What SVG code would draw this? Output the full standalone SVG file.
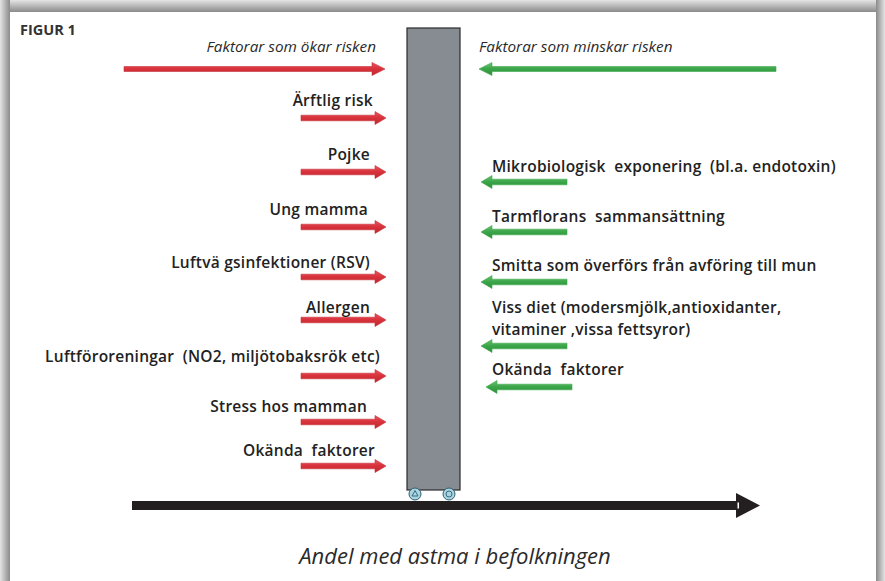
<svg xmlns="http://www.w3.org/2000/svg" xmlns:xlink="http://www.w3.org/1999/xlink" width="885" height="581" viewBox="0 0 885 581">
<defs>
<linearGradient id="gTop" x1="0" y1="0" x2="0" y2="1"><stop offset="0" stop-color="#e4e4e4"/><stop offset="1" stop-color="#8a8a8a"/></linearGradient>
<linearGradient id="gLeft" x1="0" y1="0" x2="1" y2="0"><stop offset="0" stop-color="#e4e4e4"/><stop offset="1" stop-color="#8a8a8a"/></linearGradient>
<linearGradient id="gRight" x1="1" y1="0" x2="0" y2="0"><stop offset="0" stop-color="#e4e4e4"/><stop offset="1" stop-color="#8a8a8a"/></linearGradient>
<linearGradient id="gRed" x1="0" y1="0" x2="0" y2="1"><stop offset="0" stop-color="#e9545c"/><stop offset="0.5" stop-color="#d8313b"/><stop offset="1" stop-color="#c0262f"/></linearGradient>
<linearGradient id="gGreen" x1="0" y1="0" x2="0" y2="1"><stop offset="0" stop-color="#6cc070"/><stop offset="0.5" stop-color="#3aa548"/><stop offset="1" stop-color="#2e8e3c"/></linearGradient>
<path id="ra" d="M0,-2.8 H74 V-6.5 L85,0 L74,6.5 V2.8 H0 Z" fill="url(#gRed)" stroke="#c8323a" stroke-width="0.6"/>
<path id="ga" d="M0,0 L11,-6.5 V-2.8 H86 V2.8 H11 V6.5 Z" fill="url(#gGreen)" stroke="#3daa4b" stroke-width="0.6"/>
<style>
.lbl{font-family:"Open Sans","Noto Sans","Liberation Sans",sans-serif;font-weight:600;font-size:15.5px;letter-spacing:0.25px;fill:#222;white-space:pre}
.l{text-anchor:end}
.hdr{font-family:"Open Sans","Liberation Sans",sans-serif;font-style:italic;font-size:15.3px;fill:#2a2a2a}
</style>
</defs>
<rect x="0" y="0" width="885" height="581" fill="#ffffff"/>
<rect x="0" y="0" width="885" height="12" fill="url(#gTop)"/>
<rect x="0" y="0" width="10" height="581" fill="url(#gLeft)"/>
<rect x="876" y="0" width="9" height="581" fill="url(#gRight)"/>
<rect x="10" y="12" width="866" height="569" fill="#ffffff"/>

<text x="20" y="35" font-family="Open Sans, Liberation Sans, sans-serif" font-weight="700" font-size="14.5" fill="#333">FIGUR 1</text>

<g id="headers">
<text class="hdr" x="376" y="52" text-anchor="end">Faktorar som ökar risken</text>
<text class="hdr" x="479" y="52">Faktorar som minskar risken</text>
</g>

<g id="column">
<rect x="407" y="28" width="53" height="462" fill="#878c93" stroke="#2b2b2b" stroke-width="1.2"/>
<circle cx="415" cy="494" r="6" fill="#a9d5e2" stroke="#2f5f70" stroke-width="1"/>
<path d="M415,490.5 L418,496 L412,496 Z" fill="none" stroke="#2f5f70" stroke-width="0.9"/>
<circle cx="449" cy="494" r="6" fill="#a9d5e2" stroke="#2f5f70" stroke-width="1"/>
<circle cx="449" cy="494" r="3" fill="none" stroke="#2f5f70" stroke-width="0.9"/>
</g>

<g id="axis">
<rect x="132" y="501" width="606" height="9" fill="#231f20"/>
<path d="M736,493 L760,505.5 L736,518 Z" fill="#231f20"/>
<rect x="737.5" y="502.5" width="1.5" height="6" fill="#ffffff"/>
<text x="455" y="564" text-anchor="middle" font-family="Open Sans, Liberation Sans, sans-serif" font-style="italic" font-size="22" fill="#2a2a2a">Andel med astma i befolkningen</text>
</g>

<g id="connectors">
<path d="M124,66.5 H372 V62.5 L385,69 L372,75.5 V71.5 H124 Z" fill="url(#gRed)" stroke="#c8323a" stroke-width="0.6"/>
<path d="M479,69 L492,62.5 V66.5 H776 V71.5 H492 V75.5 Z" fill="url(#gGreen)" stroke="#3daa4b" stroke-width="0.6"/>
<use xlink:href="#ra" x="301" y="118"/>
<use xlink:href="#ra" x="301" y="172"/>
<use xlink:href="#ra" x="301" y="227"/>
<use xlink:href="#ra" x="301" y="277"/>
<use xlink:href="#ra" x="301" y="320"/>
<use xlink:href="#ra" x="301" y="376"/>
<use xlink:href="#ra" x="301" y="422"/>
<use xlink:href="#ra" x="301" y="466"/>
<use xlink:href="#ga" x="481" y="182"/>
<use xlink:href="#ga" x="481" y="232"/>
<use xlink:href="#ga" x="481" y="282"/>
<use xlink:href="#ga" x="481" y="346"/>
<use xlink:href="#ga" x="486" y="387"/>
</g>

<g id="n-arftlig"><text class="lbl l" x="373" y="106">Ärftlig risk</text></g>
<g id="n-pojke"><text class="lbl l" x="370" y="160">Pojke</text></g>
<g id="n-ungmamma"><text class="lbl l" x="368" y="215">Ung mamma</text></g>
<g id="n-luftvag"><text class="lbl l" x="370" y="268">Luftvä gsinfektioner (RSV)</text></g>
<g id="n-allergen"><text class="lbl l" x="370" y="313">Allergen</text></g>
<g id="n-luftfor"><text class="lbl l" x="380" y="362">Luftföroreningar  (NO2, miljötobaksrök etc)</text></g>
<g id="n-stress"><text class="lbl l" x="367" y="412">Stress hos mamman</text></g>
<g id="n-okanda-l"><text class="lbl l" x="375" y="456">Okända  faktorer</text></g>

<g id="n-mikro"><text class="lbl" x="492" y="172">Mikrobiologisk  exponering  (bl.a. endotoxin)</text></g>
<g id="n-tarm"><text class="lbl" x="492" y="222">Tarmflorans  sammansättning</text></g>
<g id="n-smitta"><text class="lbl" x="492" y="271">Smitta som överförs från avföring till mun</text></g>
<g id="n-diet"><text class="lbl" x="492" y="313">Viss diet (modersmjölk,antioxidanter,</text><text class="lbl" x="492" y="335">vitaminer ,vissa fettsyror)</text></g>
<g id="n-okanda-r"><text class="lbl" x="492" y="375">Okända  faktorer</text></g>
</svg>
